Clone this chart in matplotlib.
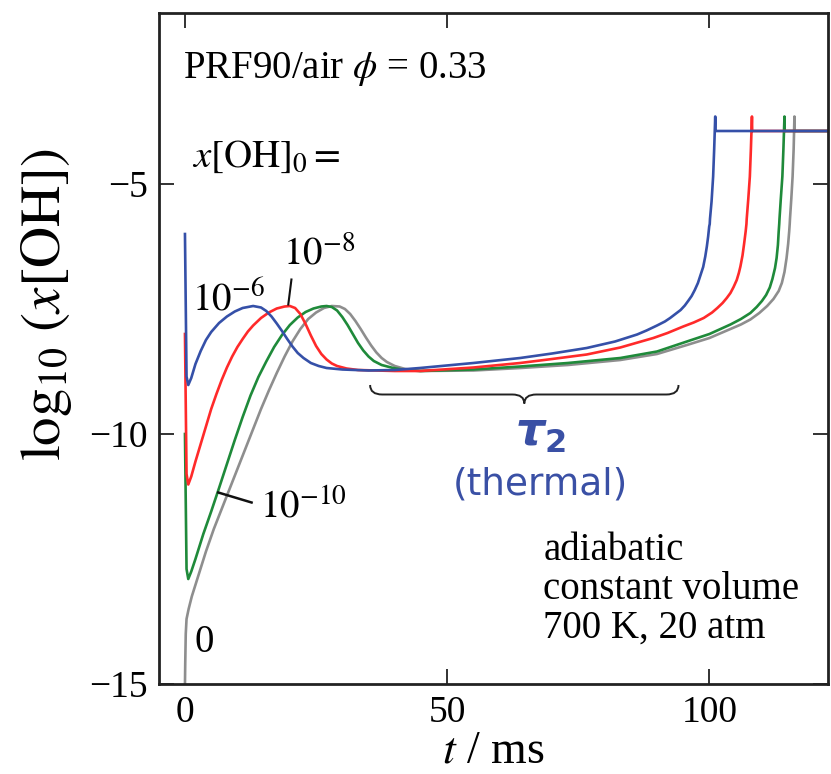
import matplotlib
matplotlib.use("Agg")
import matplotlib.pyplot as plt
from matplotlib.path import Path
from matplotlib.patches import PathPatch

plt.rcParams['font.family'] = ['Liberation Serif', 'DejaVu Serif']
plt.rcParams['mathtext.fontset'] = 'stix'

# ---- data ----
blue_t = [0, 0.3, 0.63, 1.2, 2, 3, 4, 5, 6.5, 8, 9.5, 11, 13, 14.5, 15.5, 16.5, 17.5, 18.5, 19.5,
          20.5, 21.5, 22.6, 24, 25.5, 27, 30, 35, 40, 44.8, 55, 63.9, 70, 76.6, 82, 86.2, 88, 90,
          91.5, 92.5, 93.5, 94.5, 95.3, 96, 96.6, 97.2, 97.8, 98.3, 98.8, 99.2, 99.5, 99.75, 99.95,
          100.05, 100.1, 100.4, 100.7, 100.9, 101.1, 101.15, 125]
blue_y = [-6.0, -8.85, -9.02, -8.88, -8.60, -8.34, -8.12, -7.96, -7.78, -7.65, -7.55, -7.48, -7.44,
          -7.47, -7.54, -7.65, -7.79, -7.94, -8.10, -8.25, -8.38, -8.48, -8.58, -8.64, -8.68, -8.71,
          -8.73, -8.72, -8.68, -8.58, -8.48, -8.39, -8.28, -8.15, -8.01, -7.93, -7.83, -7.75, -7.68,
          -7.60, -7.52, -7.43, -7.33, -7.24, -7.12, -6.98, -6.82, -6.66, -6.45, -6.25, -6.05, -5.85,
          -5.80, -5.70, -5.35, -4.85, -4.30, -3.65, -3.94, -3.94]

red_t = [0, 0.3, 0.63, 1.2, 2, 3, 4, 5, 6, 7, 8, 9, 10, 11, 12, 13, 14.5, 16, 17.5, 19, 20, 21, 22,
         23, 24, 25, 26, 27, 28, 29, 30.8, 33, 40, 44.8, 55, 63.9, 70, 76.6, 83, 89.3, 92, 95, 97,
         98.9, 100.5, 101.5, 102.5, 103.3, 104.0, 104.6, 105.2, 105.6, 105.9, 106.3, 106.6, 106.9,
         107.05, 107.1, 107.4, 107.7, 107.9, 108.1, 108.15, 125]
red_y = [-8.0, -10.8, -11.01, -10.85, -10.55, -10.20, -9.85, -9.50, -9.20, -8.92, -8.67, -8.45,
         -8.26, -8.10, -7.95, -7.83, -7.68, -7.57, -7.49, -7.45, -7.44, -7.48, -7.60, -7.80, -8.03,
         -8.24, -8.40, -8.51, -8.59, -8.64, -8.69, -8.72, -8.74, -8.74, -8.67, -8.58, -8.50, -8.41,
         -8.27, -8.08, -7.98, -7.85, -7.77, -7.68, -7.57, -7.48, -7.38, -7.28, -7.18, -7.06, -6.92,
         -6.78, -6.65, -6.43, -6.20, -5.95, -5.80, -5.70, -5.30, -4.85, -4.30, -3.65, -3.94, -3.94]

green_t = [0, 0.3, 0.63, 1.2, 2, 3.5, 5, 6.5, 8, 9.5, 11, 12.5, 14, 15.5, 17, 18.5, 20, 21.5, 23,
           24.5, 26, 27, 28, 29, 30, 31, 32, 33, 34, 35, 36, 37.5, 39.7, 42, 44.8, 55, 63.9, 73, 83,
           90, 95.7, 100, 104, 106, 107.8, 109, 110, 110.8, 111.5, 112.0, 112.5, 112.8, 113.05,
           113.2, 113.3, 113.35, 113.6, 113.9, 114.1, 114.3, 114.35, 125]
green_y = [-10.0, -12.7, -12.90, -12.75, -12.50, -12.00, -11.55, -11.08, -10.60, -10.12, -9.66,
           -9.23, -8.86, -8.55, -8.26, -8.02, -7.82, -7.67, -7.56, -7.49, -7.45, -7.44, -7.46,
           -7.53, -7.66, -7.82, -8.00, -8.18, -8.33, -8.45, -8.54, -8.62, -8.68, -8.72, -8.74,
           -8.71, -8.65, -8.58, -8.48, -8.35, -8.15, -8.00, -7.81, -7.70, -7.58, -7.46, -7.34,
           -7.22, -7.07, -6.90, -6.68, -6.48, -6.22, -5.95, -5.80, -5.70, -5.30, -4.85, -4.30,
           -3.65, -3.94, -3.94]

gray_t = [0, 0.05, 0.15, 0.3, 0.7, 1.3, 2.5, 4, 5.5, 7, 8.5, 10, 11.5, 13, 14.5, 16, 17.5, 19,
          20.5, 22, 23.5, 25, 26.5, 28, 29.5, 30.5, 31.5, 32.5, 33.5, 34.5, 35.5, 36.5, 37.5, 38.5,
          40, 42, 45, 55, 64, 73, 83, 90, 95.7, 100, 104, 106, 107.8, 109.5, 111, 112.2, 113.2,
          113.8, 114.3, 114.7, 115.0, 115.2, 115.3, 115.35, 115.6, 115.85, 116.05, 116.2, 116.25, 125]
gray_y = [-15.0, -14.6, -14.0, -13.7, -13.5, -13.25, -12.85, -12.35, -11.90, -11.50, -11.10,
          -10.70, -10.30, -9.90, -9.50, -9.13, -8.78, -8.45, -8.15, -7.90, -7.70, -7.57, -7.48,
          -7.44, -7.45, -7.50, -7.60, -7.74, -7.90, -8.07, -8.23, -8.37, -8.48, -8.56, -8.64,
          -8.70, -8.74, -8.73, -8.68, -8.62, -8.52, -8.40, -8.22, -8.08, -7.90, -7.81, -7.71,
          -7.58, -7.44, -7.30, -7.14, -6.98, -6.76, -6.48, -6.20, -5.95, -5.80, -5.70, -5.30,
          -4.85, -4.30, -3.65, -3.94, -3.94]

series = [
    ("0", gray_t, gray_y, "#8e8e8e"),
    ("1e-10", green_t, green_y, "#1f8a3a"),
    ("1e-8", red_t, red_y, "#ff2a2a"),
    ("1e-6", blue_t, blue_y, "#3550a8"),
]

xticks = [0, 50, 100]
yticks = [-5, -10, -15]
xlim = (-4.95, 122.6)
ylim = (-15.0, -1.58)

# ---- figure ----
fig = plt.figure(figsize=(8.31, 7.74), dpi=100)
ax = fig.add_axes([159/831, 1-684/774, (828-159)/831, (684-13)/774])

for name, t, y, c in series:
    ax.plot(t, y, color=c, lw=1.9, solid_joinstyle='round')

ax.set_xlim(*xlim)
ax.set_ylim(*ylim)
ax.set_xticks(xticks)
ax.set_yticks(yticks)
ax.tick_params(direction='in', length=11, width=1.3, top=True, right=True,
               labelsize=27, pad=8, color='#222222')
for s in ax.spines.values():
    s.set_linewidth(2.0)
    s.set_color('#222222')

ax.set_xlabel(r'$t$ / ms', fontsize=33)
ax.set_ylabel(r'$\log_{10}\,(x\mathrm{[OH]})$', fontsize=41)
ax.xaxis.set_label_coords(0.499, -0.068)
ax.yaxis.set_label_coords(-0.127, 0.565)

# ---- annotations ----
fs = 28
ax.text(-0.38, -2.87, r'PRF90/air $\phi$ = 0.33', fontsize=fs, va='baseline', ha='left')
ax.text(1.33, -4.65, r'$x\mathrm{[OH]}_0 =$', fontsize=fs, va='baseline', ha='left')
ax.text(1.33, -7.51, r'$10^{-6}$', fontsize=fs, va='baseline', ha='left')
ax.text(18.7, -6.61, r'$10^{-8}$', fontsize=fs, va='baseline', ha='left')
ax.plot([20.3, 19.7], [-6.91, -7.41], color='#111111', lw=1.5)
ax.text(14.3, -11.69, r'$10^{-10}$', fontsize=fs, va='baseline', ha='left')
ax.plot([6.35, 12.7], [-11.17, -11.37], color='#111111', lw=1.8)
ax.text(1.9, -14.37, '0', fontsize=fs, va='baseline', ha='left')

ax.text(68.3, -12.52, 'adiabatic', fontsize=fs, va='baseline', ha='left')
ax.text(68.3, -13.30, 'constant volume', fontsize=fs, va='baseline', ha='left')
ax.text(68.3, -14.08, '700 K, 20 atm', fontsize=fs, va='baseline', ha='left')

# brace
xl, xr, xm = 35.3, 94.1, 64.7
ye, yh, yt = -9.02, -9.21, -9.39
verts = [(xl, ye), (xl, yh), (xl + 2.3, yh),
         (xm - 2.3, yh),
         (xm, yh), (xm, yt),
         (xm, yh), (xm + 2.3, yh),
         (xr - 2.3, yh),
         (xr, yh), (xr, ye)]
codes = [Path.MOVETO, Path.CURVE3, Path.CURVE3,
         Path.LINETO,
         Path.CURVE3, Path.CURVE3,
         Path.CURVE3, Path.CURVE3,
         Path.LINETO,
         Path.CURVE3, Path.CURVE3]
ax.add_patch(PathPatch(Path(verts, codes), fill=False, lw=1.4, edgecolor='#222222'))

tau_c = '#3a50a5'
tau_txt = ax.text(67.8, -10.0, r'$\boldsymbol{\tau}_{\mathbf{2}}$', fontsize=33, color=tau_c,
                  math_fontfamily='dejavusans', ha='center', va='center')
try:
    fig.canvas.draw()
except Exception:
    tau_txt.remove()
    ax.text(67.3, -9.88, 'τ', fontsize=35, fontweight='bold', style='italic', color=tau_c,
            family='DejaVu Sans', ha='center', va='center')
    ax.text(71.0, -10.2, '2', fontsize=23, fontweight='bold', color=tau_c,
            family='DejaVu Sans', ha='center', va='center')
ax.text(67.7, -11.0, '(thermal)', fontsize=27, color=tau_c, family='DejaVu Sans',
        ha='center', va='center')

fig.savefig('out.png', dpi=100)
